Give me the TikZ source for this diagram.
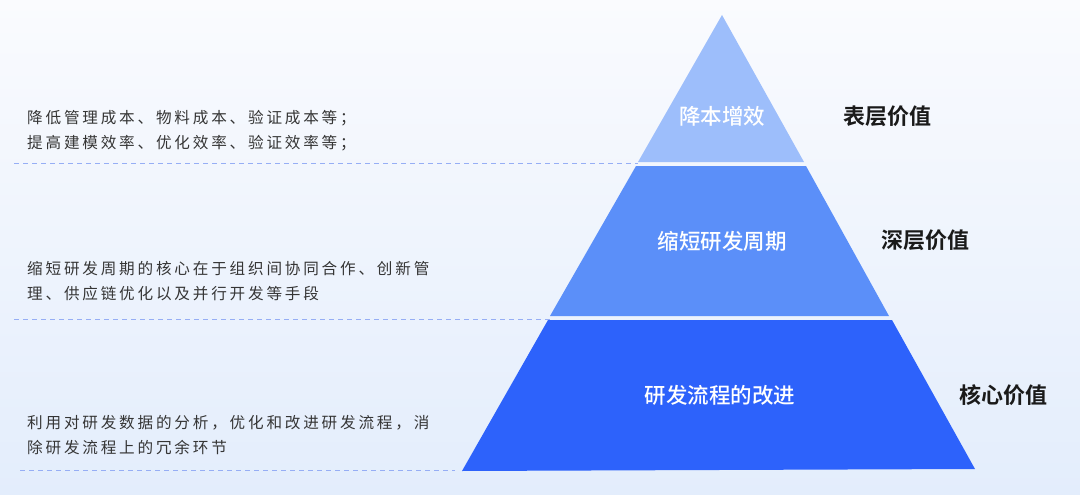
\documentclass[tikz,border=0pt]{standalone}
\usepackage{fontspec}
\newfontfamily\cjk{Noto Sans CJK SC}
\newfontfamily\cjkb{Noto Sans CJK SC Bold}
\newfontfamily\cjkm{Noto Sans CJK SC Medium}
\newfontfamily\cjksp[LetterSpace=18]{Noto Sans CJK SC}
\definecolor{bgtop}{HTML}{FAFBFE}
\definecolor{bgbot}{HTML}{E3EDFC}
\definecolor{lay1}{HTML}{9DBEFB}
\definecolor{lay2}{HTML}{5B8FF9}
\definecolor{lay3}{HTML}{2D62FB}
\definecolor{dashc}{HTML}{96AEF5}
\definecolor{txtc}{HTML}{353535}
\definecolor{headc}{HTML}{1A1A1A}
\tikzset{
  layerlabel/.style={text=white, inner sep=0pt, font=\cjkm\fontsize{21.5}{26}\selectfont},
  sidelabel/.style={text=headc, inner sep=0pt, font=\cjkb\fontsize{22}{26}\selectfont},
  desc/.style={text=txtc, inner sep=0pt, anchor=west, align=left, font=\cjksp\fontsize{15.6}{25}\selectfont},
  guide/.style={draw=dashc, line width=1pt, dash pattern=on 5pt off 4pt}
}
\begin{document}
\begin{tikzpicture}[x=1pt,y=-1pt]
\shade[top color=bgtop, bottom color=bgbot] (0,0) rectangle (1080,495);
\useasboundingbox (0,0) rectangle (1080,495);
% pyramid layers
\coordinate (apex) at (722,15);
\coordinate (t1bl) at (638,162);
\coordinate (t1br) at (804,162);
\coordinate (t2tl) at (636,166);
\coordinate (t2tr) at (806,166);
\coordinate (t2bl) at (550,316);
\coordinate (t2br) at (889,316);
\coordinate (t3tl) at (548,320);
\coordinate (t3tr) at (892,320);
\coordinate (t3bl) at (462,471);
\coordinate (t3br) at (975,469);
\fill[lay1] (apex) -- (t1br) -- (t1bl) -- cycle;
\fill[lay2] (t2tl) -- (t2tr) -- (t2br) -- (t2bl) -- cycle;
\fill[lay3] (t3tl) -- (t3tr) -- (t3br) -- (t3bl) -- cycle;
% layer labels
\node[layerlabel] (l1) at (722,116) {降本增效};
\node[layerlabel] (l2) at (722,241) {缩短研发周期};
\node[layerlabel] (l3) at (720,395) {研发流程的改进};
% side labels
\node[sidelabel] (r1) at (887,116) {表层价值};
\node[sidelabel] (r2) at (925,240) {深层价值};
\node[sidelabel] (r3) at (1003,395) {核心价值};
% descriptions
\node[desc] (d1) at (27,130.5) {降低管理成本、物料成本、验证成本等；\\提高建模效率、优化效率、验证效率等；};
\node[desc] (d2) at (27,281) {缩短研发周期的核心在于组织间协同合作、创新管\\理、供应链优化以及并行开发等手段};
\node[desc] (d3) at (27,435.5) {利用对研发数据的分析，优化和改进研发流程，消\\除研发流程上的冗余环节};
% guide lines
\coordinate (g1) at (14,163);
\coordinate (g2) at (14,319);
\coordinate (g3) at (20,470);
\draw[guide] (g1) -- (g1 -| t1bl);
\draw[guide] (g2) -- (g2 -| t2bl);
\draw[guide] (g3) -- (455,470);
\end{tikzpicture}
\end{document}
